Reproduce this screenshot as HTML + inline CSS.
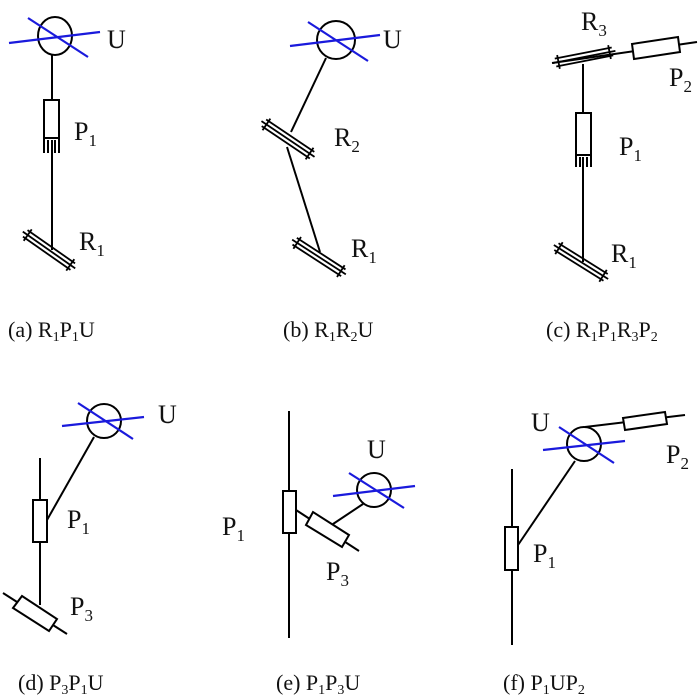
<!DOCTYPE html>
<html><head><meta charset="utf-8"><style>
html,body{margin:0;padding:0;background:#fff;}
svg{display:block;}
text{font-family:"Liberation Serif",serif;fill:#111;}
.l{font-size:26px;}
.c{font-size:22px;}
</style></head><body>
<svg width="700" height="697" viewBox="0 0 700 697" xmlns="http://www.w3.org/2000/svg">
<defs>
<g id="rj" stroke="#000" stroke-width="1.8" fill="none">
<line x1="-29" y1="-4" x2="29" y2="-4"/>
<line x1="-29" y1="4" x2="29" y2="4"/>
<line x1="-32" y1="0" x2="32" y2="0"/>
<line x1="-26" y1="-7" x2="-26" y2="7"/>
<line x1="26" y1="-7" x2="26" y2="7"/>
</g>
</defs>
<g stroke="#000" stroke-width="2" fill="none">
<!-- (a) -->
<ellipse cx="55" cy="36" rx="17" ry="19"/>
<line x1="52" y1="55" x2="52" y2="100"/>
<rect x="44" y="100" width="15" height="38" fill="#fff"/>
<line x1="44" y1="138" x2="44" y2="153"/><line x1="48" y1="140" x2="48" y2="153"/>
<line x1="55" y1="140" x2="55" y2="153"/><line x1="59" y1="138" x2="59" y2="153"/>
<line x1="52" y1="140" x2="52" y2="250"/>
<!-- (b) -->
<circle cx="336" cy="40" r="19"/>
<line x1="326" y1="58" x2="291" y2="132"/>
<line x1="287" y1="147" x2="320" y2="252"/>
<!-- (c) -->
<line x1="552" y1="63" x2="697" y2="42"/>
<polygon points="632,44 678,37 680,52 634,59" fill="#fff"/>
<line x1="583" y1="64" x2="583" y2="113"/>
<rect x="576" y="113" width="15" height="42" fill="#fff"/>
<line x1="576" y1="155" x2="576" y2="167"/><line x1="580" y1="157" x2="580" y2="167"/>
<line x1="587" y1="157" x2="587" y2="167"/><line x1="591" y1="155" x2="591" y2="167"/>
<line x1="583" y1="157" x2="583" y2="262"/>
<!-- (d) -->
<circle cx="104" cy="421" r="17"/>
<line x1="94" y1="437" x2="47" y2="520"/>
<line x1="40" y1="458" x2="40" y2="605"/>
<rect x="33" y="500" width="14" height="42" fill="#fff"/>
<line x1="3" y1="593" x2="67" y2="634"/>
<polygon points="13,608 22,596 57,619 49,631" fill="#fff"/>
<!-- (e) -->
<line x1="289" y1="411" x2="289" y2="638"/>
<rect x="283" y="491" width="13" height="42" fill="#fff"/>
<line x1="296" y1="510" x2="359" y2="551"/>
<polygon points="306,525 313,512 349,535 342,547" fill="#fff"/>
<line x1="333" y1="524" x2="363" y2="504"/>
<circle cx="374" cy="490" r="17"/>
<!-- (f) -->
<line x1="512" y1="469" x2="512" y2="645"/>
<rect x="505" y="527" width="13" height="43" fill="#fff"/>
<line x1="518" y1="545" x2="575" y2="461"/>
<circle cx="584" cy="444" r="17"/>
<line x1="585" y1="427" x2="685" y2="415"/>
<polygon points="623,418 665,412 667,424 625,430" fill="#fff"/>
</g>
<use href="#rj" transform="translate(49,250) rotate(35)"/>
<use href="#rj" transform="translate(288,139) rotate(34)"/>
<use href="#rj" transform="translate(319,257) rotate(33)"/>
<use href="#rj" transform="translate(584,57) rotate(-11)"/>
<use href="#rj" transform="translate(581,262) rotate(32)"/>
<g stroke="#1a1adc" stroke-width="2.2" fill="none">
<line x1="9" y1="43" x2="100" y2="32"/><line x1="28" y1="18" x2="88" y2="57"/>
<line x1="290" y1="46" x2="380" y2="35"/><line x1="308" y1="22" x2="368" y2="61"/>
<line x1="62" y1="426" x2="144" y2="417"/><line x1="78" y1="403" x2="133" y2="439"/>
<line x1="333" y1="496" x2="415" y2="486"/><line x1="349" y1="473" x2="404" y2="508"/>
<line x1="543" y1="450" x2="625" y2="441"/><line x1="559" y1="427" x2="614" y2="463"/>
</g>
<g class="l">
<text x="107" y="48">U</text>
<text x="74" y="140">P<tspan font-size="17" dy="6">1</tspan></text>
<text x="79" y="250">R<tspan font-size="17" dy="6">1</tspan></text>
<text x="383" y="48">U</text>
<text x="334" y="146">R<tspan font-size="17" dy="6">2</tspan></text>
<text x="351" y="257">R<tspan font-size="17" dy="6">1</tspan></text>
<text x="581" y="30">R<tspan font-size="17" dy="6">3</tspan></text>
<text x="669" y="86">P<tspan font-size="17" dy="6">2</tspan></text>
<text x="619" y="155">P<tspan font-size="17" dy="6">1</tspan></text>
<text x="611" y="262">R<tspan font-size="17" dy="6">1</tspan></text>
<text x="158" y="423">U</text>
<text x="67" y="528">P<tspan font-size="17" dy="6">1</tspan></text>
<text x="70" y="615">P<tspan font-size="17" dy="6">3</tspan></text>
<text x="222" y="535">P<tspan font-size="17" dy="6">1</tspan></text>
<text x="367" y="458">U</text>
<text x="326" y="580">P<tspan font-size="17" dy="6">3</tspan></text>
<text x="531" y="431">U</text>
<text x="666" y="463">P<tspan font-size="17" dy="6">2</tspan></text>
<text x="533" y="562">P<tspan font-size="17" dy="6">1</tspan></text>
</g>
<g class="c">
<text x="8" y="337">(a) R<tspan font-size="14" dy="4">1</tspan><tspan dy="-4">P</tspan><tspan font-size="14" dy="4">1</tspan><tspan dy="-4">U</tspan></text>
<text x="283" y="337">(b) R<tspan font-size="14" dy="4">1</tspan><tspan dy="-4">R</tspan><tspan font-size="14" dy="4">2</tspan><tspan dy="-4">U</tspan></text>
<text x="546" y="337">(c) R<tspan font-size="14" dy="4">1</tspan><tspan dy="-4">P</tspan><tspan font-size="14" dy="4">1</tspan><tspan dy="-4">R</tspan><tspan font-size="14" dy="4">3</tspan><tspan dy="-4">P</tspan><tspan font-size="14" dy="4">2</tspan></text>
<text x="18" y="690">(d) P<tspan font-size="14" dy="4">3</tspan><tspan dy="-4">P</tspan><tspan font-size="14" dy="4">1</tspan><tspan dy="-4">U</tspan></text>
<text x="276" y="690">(e) P<tspan font-size="14" dy="4">1</tspan><tspan dy="-4">P</tspan><tspan font-size="14" dy="4">3</tspan><tspan dy="-4">U</tspan></text>
<text x="503" y="690">(f) P<tspan font-size="14" dy="4">1</tspan><tspan dy="-4">UP</tspan><tspan font-size="14" dy="4">2</tspan></text>
</g>
</svg>
</body></html>
